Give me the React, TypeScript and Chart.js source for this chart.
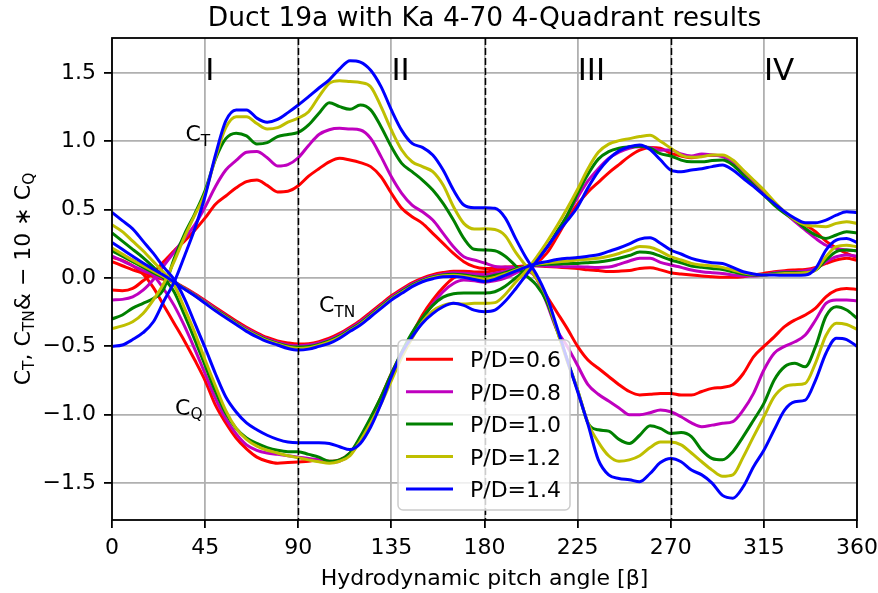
import React, { useEffect, useRef } from "react";
import { Chart, registerables } from "chart.js";

Chart.register(...registerables);

const BETA = [0, 5, 10, 15, 20, 25, 30, 35, 40, 45, 50, 55, 60, 65, 70, 75, 80, 85, 90, 95, 100, 105, 110, 115, 120, 125, 130, 135, 140, 145, 150, 155, 160, 165, 170, 175, 180, 185, 190, 195, 200, 205, 210, 215, 220, 225, 230, 235, 240, 245, 250, 255, 260, 265, 270, 275, 280, 285, 290, 295, 300, 305, 310, 315, 320, 325, 330, 335, 340, 345, 350, 355, 360];
const X_TICKS = [0, 45, 90, 135, 180, 225, 270, 315, 360];
const Y_TICKS = [-1.5, -1, -0.5, 0, 0.5, 1, 1.5];
const QUADRANT_LINES = [90, 180, 270];
const QUADRANT_LABELS = ["I", "II", "III", "IV"];
const QUADRANT_LABEL_X = [45, 135, 225, 315];
const PD_LABELS = ["P/D=0.6", "P/D=0.8", "P/D=1.0", "P/D=1.2", "P/D=1.4"];
const COLORS = ["#ff0000", "#bf00bf", "#008000", "#bfbf00", "#0000ff"];

// C_T
const CT_06 = [-0.088, -0.093, -0.076, -0.02, 0.04, 0.12, 0.2, 0.27, 0.35, 0.44, 0.54, 0.6, 0.66, 0.705, 0.717, 0.678, 0.63, 0.635, 0.675, 0.745, 0.8, 0.85, 0.876, 0.863, 0.844, 0.815, 0.741, 0.62, 0.51, 0.449, 0.4, 0.327, 0.254, 0.18, 0.12, 0.083, 0.07, 0.072, 0.08, 0.085, 0.085, 0.0, -0.13, -0.25, -0.37, -0.5, -0.6, -0.66, -0.72, -0.78, -0.83, -0.855, -0.85, -0.845, -0.844, -0.856, -0.856, -0.83, -0.807, -0.8, -0.78, -0.7, -0.576, -0.5, -0.43, -0.356, -0.307, -0.27, -0.22, -0.137, -0.088, -0.076, -0.083];
const CT_08 = [-0.16, -0.156, -0.137, -0.088, -0.01, 0.09, 0.19, 0.29, 0.39, 0.52, 0.67, 0.79, 0.86, 0.92, 0.925, 0.88, 0.82, 0.83, 0.88, 0.97, 1.05, 1.085, 1.095, 1.09, 1.083, 1.022, 0.888, 0.741, 0.62, 0.534, 0.485, 0.424, 0.327, 0.229, 0.156, 0.132, 0.11, 0.085, 0.08, 0.075, 0.06, 0.0, -0.18, -0.38, -0.5, -0.64, -0.78, -0.85, -0.9, -0.95, -1.0, -1.0, -0.985, -0.965, -0.978, -1.015, -1.06, -1.088, -1.076, -1.063, -1.05, -0.966, -0.844, -0.673, -0.55, -0.5, -0.466, -0.417, -0.307, -0.185, -0.16, -0.16, -0.166];
const CT_10 = [-0.3, -0.27, -0.22, -0.185, -0.15, -0.08, 0.14, 0.32, 0.47, 0.64, 0.87, 1.02, 1.06, 1.04, 0.98, 0.99, 1.035, 1.05, 1.065, 1.12, 1.205, 1.283, 1.254, 1.234, 1.266, 1.23, 1.107, 0.96, 0.839, 0.778, 0.717, 0.644, 0.546, 0.424, 0.29, 0.21, 0.205, 0.2, 0.16, 0.09, 0.02, -0.05, -0.17, -0.38, -0.6, -0.82, -1.06, -1.11, -1.12, -1.18, -1.21, -1.15, -1.08, -1.1, -1.137, -1.13, -1.16, -1.259, -1.32, -1.33, -1.27, -1.16, -1.04, -0.917, -0.746, -0.649, -0.624, -0.649, -0.5, -0.28, -0.21, -0.234, -0.295];
const CT_12 = [-0.37, -0.35, -0.32, -0.26, -0.16, -0.04, 0.12, 0.3, 0.46, 0.62, 0.88, 1.1, 1.18, 1.18, 1.13, 1.09, 1.1, 1.14, 1.17, 1.217, 1.327, 1.424, 1.444, 1.437, 1.43, 1.4, 1.254, 1.083, 0.937, 0.851, 0.815, 0.778, 0.68, 0.522, 0.4, 0.359, 0.36, 0.355, 0.31, 0.19, 0.09, 0.0, -0.14, -0.38, -0.61, -0.82, -1.06, -1.2, -1.3, -1.34, -1.33, -1.3, -1.24, -1.2, -1.2, -1.22, -1.28, -1.344, -1.405, -1.45, -1.44, -1.31, -1.16, -1.015, -0.868, -0.795, -0.78, -0.77, -0.62, -0.42, -0.33, -0.34, -0.375];
const CT_14 = [-0.5, -0.49, -0.45, -0.4, -0.32, -0.17, -0.03, 0.16, 0.36, 0.6, 0.9, 1.15, 1.23, 1.23, 1.17, 1.14, 1.16, 1.21, 1.266, 1.327, 1.39, 1.45, 1.53, 1.59, 1.58, 1.52, 1.4, 1.23, 1.08, 0.985, 0.956, 0.9, 0.79, 0.644, 0.534, 0.515, 0.515, 0.51, 0.44, 0.29, 0.15, 0.03, -0.13, -0.36, -0.6, -0.83, -1.07, -1.33, -1.44, -1.466, -1.475, -1.49, -1.43, -1.35, -1.32, -1.344, -1.405, -1.44, -1.5, -1.59, -1.61, -1.527, -1.38, -1.26, -1.11, -0.966, -0.905, -0.893, -0.746, -0.55, -0.44, -0.45, -0.5];

// C_TN
const CTN_06 = [0.12, 0.09, 0.06, 0.035, 0.01, -0.01, -0.03, -0.07, -0.115, -0.165, -0.215, -0.265, -0.315, -0.36, -0.4, -0.435, -0.46, -0.475, -0.483, -0.48, -0.465, -0.44, -0.405, -0.36, -0.31, -0.25, -0.19, -0.13, -0.08, -0.035, 0.0, 0.025, 0.04, 0.05, 0.05, 0.045, 0.045, 0.055, 0.07, 0.08, 0.09, 0.09, 0.085, 0.08, 0.075, 0.07, 0.06, 0.055, 0.048, 0.05, 0.055, 0.07, 0.075, 0.06, 0.039, 0.03, 0.022, 0.015, 0.01, 0.005, 0.005, 0.01, 0.022, 0.034, 0.046, 0.054, 0.059, 0.063, 0.078, 0.107, 0.132, 0.144, 0.13];
const CTN_08 = [0.16, 0.125, 0.09, 0.055, 0.025, -0.005, -0.03, -0.075, -0.12, -0.172, -0.225, -0.275, -0.325, -0.37, -0.41, -0.445, -0.47, -0.49, -0.495, -0.49, -0.475, -0.45, -0.415, -0.37, -0.32, -0.26, -0.2, -0.14, -0.09, -0.045, -0.01, 0.015, 0.03, 0.038, 0.035, 0.03, 0.025, 0.035, 0.05, 0.07, 0.085, 0.09, 0.088, 0.085, 0.083, 0.083, 0.08, 0.078, 0.08, 0.1, 0.125, 0.145, 0.145, 0.115, 0.095, 0.078, 0.059, 0.046, 0.039, 0.034, 0.022, 0.015, 0.015, 0.022, 0.039, 0.046, 0.046, 0.054, 0.07, 0.12, 0.156, 0.168, 0.16];
const CTN_10 = [0.2, 0.16, 0.12, 0.08, 0.04, 0.005, -0.03, -0.077, -0.125, -0.178, -0.23, -0.28, -0.33, -0.378, -0.418, -0.453, -0.478, -0.498, -0.505, -0.5, -0.485, -0.46, -0.425, -0.378, -0.33, -0.27, -0.208, -0.148, -0.098, -0.052, -0.017, 0.008, 0.022, 0.028, 0.022, 0.012, 0.005, 0.02, 0.04, 0.065, 0.085, 0.095, 0.1, 0.103, 0.105, 0.107, 0.112, 0.118, 0.128, 0.145, 0.165, 0.19, 0.185, 0.16, 0.132, 0.112, 0.088, 0.078, 0.07, 0.063, 0.046, 0.029, 0.022, 0.022, 0.034, 0.039, 0.039, 0.041, 0.059, 0.132, 0.193, 0.205, 0.2];
const CTN_12 = [0.22, 0.175, 0.13, 0.09, 0.05, 0.01, -0.03, -0.078, -0.127, -0.18, -0.235, -0.285, -0.335, -0.383, -0.423, -0.458, -0.483, -0.505, -0.515, -0.51, -0.492, -0.468, -0.432, -0.385, -0.337, -0.277, -0.215, -0.154, -0.105, -0.058, -0.022, 0.002, 0.016, 0.02, 0.014, 0.002, -0.008, 0.005, 0.03, 0.058, 0.083, 0.1, 0.11, 0.118, 0.125, 0.132, 0.138, 0.145, 0.16, 0.18, 0.205, 0.23, 0.225, 0.195, 0.156, 0.132, 0.107, 0.095, 0.088, 0.078, 0.059, 0.039, 0.027, 0.022, 0.027, 0.034, 0.034, 0.039, 0.059, 0.156, 0.229, 0.24, 0.229];
const CTN_14 = [0.26, 0.21, 0.16, 0.11, 0.065, 0.02, -0.03, -0.08, -0.13, -0.185, -0.24, -0.29, -0.34, -0.39, -0.43, -0.465, -0.49, -0.515, -0.527, -0.52, -0.5, -0.478, -0.44, -0.39, -0.344, -0.283, -0.222, -0.16, -0.112, -0.063, -0.027, -0.005, 0.01, 0.012, 0.005, -0.01, -0.025, -0.01, 0.02, 0.05, 0.08, 0.105, 0.12, 0.135, 0.145, 0.15, 0.16, 0.17, 0.195, 0.22, 0.25, 0.285, 0.295, 0.255, 0.205, 0.176, 0.144, 0.124, 0.112, 0.107, 0.078, 0.046, 0.03, 0.022, 0.022, 0.02, 0.02, 0.022, 0.07, 0.205, 0.278, 0.29, 0.26];

// -10*C_Q
const CQ_06 = [0.15, 0.13, 0.09, 0.03, -0.07, -0.2, -0.33, -0.46, -0.6, -0.75, -0.93, -1.06, -1.17, -1.25, -1.31, -1.34, -1.355, -1.35, -1.345, -1.34, -1.33, -1.34, -1.33, -1.28, -1.17, -1.03, -0.87, -0.7, -0.55, -0.41, -0.27, -0.16, -0.07, 0.0, 0.03, 0.035, 0.02, 0.025, 0.04, 0.06, 0.08, 0.11, 0.18, 0.3, 0.43, 0.54, 0.63, 0.7, 0.77, 0.83, 0.89, 0.935, 0.955, 0.95, 0.912, 0.893, 0.88, 0.893, 0.898, 0.893, 0.85, 0.778, 0.705, 0.62, 0.546, 0.478, 0.424, 0.388, 0.339, 0.27, 0.22, 0.18, 0.15];
const CQ_08 = [0.2, 0.17, 0.13, 0.08, 0.02, -0.08, -0.2, -0.35, -0.52, -0.7, -0.88, -1.03, -1.14, -1.22, -1.26, -1.28, -1.29, -1.3, -1.31, -1.32, -1.33, -1.35, -1.34, -1.29, -1.19, -1.05, -0.88, -0.72, -0.55, -0.41, -0.3, -0.19, -0.1, -0.04, -0.015, -0.02, -0.03, -0.02, 0.0, 0.035, 0.07, 0.12, 0.22, 0.33, 0.46, 0.59, 0.71, 0.8, 0.875, 0.92, 0.95, 0.96, 0.955, 0.935, 0.937, 0.907, 0.893, 0.907, 0.9, 0.888, 0.85, 0.766, 0.693, 0.62, 0.546, 0.478, 0.412, 0.351, 0.29, 0.24, 0.217, 0.205, 0.2];
const CQ_10 = [0.33, 0.27, 0.21, 0.15, 0.08, 0.0, -0.1, -0.27, -0.45, -0.64, -0.83, -0.99, -1.1, -1.17, -1.21, -1.24, -1.26, -1.27, -1.27, -1.29, -1.31, -1.34, -1.33, -1.28, -1.16, -1.02, -0.87, -0.7, -0.54, -0.4, -0.29, -0.2, -0.14, -0.115, -0.11, -0.11, -0.11, -0.1, -0.06, 0.0, 0.06, 0.13, 0.22, 0.34, 0.46, 0.62, 0.76, 0.87, 0.925, 0.95, 0.96, 0.965, 0.95, 0.91, 0.893, 0.863, 0.85, 0.85, 0.859, 0.863, 0.827, 0.754, 0.68, 0.607, 0.534, 0.473, 0.424, 0.363, 0.315, 0.29, 0.315, 0.339, 0.33];
const CQ_12 = [0.39, 0.34, 0.27, 0.2, 0.12, 0.04, -0.05, -0.22, -0.4, -0.6, -0.79, -0.97, -1.1, -1.18, -1.23, -1.26, -1.28, -1.3, -1.315, -1.33, -1.344, -1.355, -1.34, -1.3, -1.19, -1.06, -0.92, -0.75, -0.58, -0.44, -0.32, -0.24, -0.2, -0.185, -0.19, -0.185, -0.185, -0.18, -0.12, -0.03, 0.05, 0.15, 0.26, 0.38, 0.51, 0.65, 0.8, 0.92, 0.98, 1.005, 1.02, 1.035, 1.045, 1.0, 0.95, 0.9, 0.883, 0.888, 0.9, 0.9, 0.863, 0.79, 0.717, 0.644, 0.56, 0.485, 0.424, 0.388, 0.38, 0.376, 0.4, 0.412, 0.4];
const CQ_14 = [0.48, 0.42, 0.36, 0.27, 0.18, 0.08, -0.01, -0.15, -0.33, -0.51, -0.7, -0.87, -0.98, -1.06, -1.11, -1.15, -1.18, -1.2, -1.205, -1.205, -1.205, -1.21, -1.234, -1.255, -1.21, -1.09, -0.92, -0.72, -0.55, -0.43, -0.33, -0.26, -0.21, -0.185, -0.2, -0.235, -0.246, -0.235, -0.17, -0.08, 0.02, 0.12, 0.22, 0.327, 0.42, 0.52, 0.66, 0.78, 0.87, 0.93, 0.96, 0.973, 0.94, 0.865, 0.79, 0.778, 0.79, 0.8, 0.815, 0.827, 0.79, 0.73, 0.67, 0.607, 0.546, 0.485, 0.437, 0.405, 0.405, 0.424, 0.46, 0.485, 0.478];

const CT_SERIES = [CT_06, CT_08, CT_10, CT_12, CT_14];
const CTN_SERIES = [CTN_06, CTN_08, CTN_10, CTN_12, CTN_14];
const CQ_SERIES = [CQ_06, CQ_08, CQ_10, CQ_12, CQ_14];

const FONT = '"DejaVu Sans", sans-serif';

type Part = { t: string; sub?: boolean };

function partsWidth(ctx: CanvasRenderingContext2D, parts: Part[], size: number) {
  let w = 0;
  for (const p of parts) {
    ctx.font = `${p.sub ? size * 0.7 : size}px ${FONT}`;
    w += ctx.measureText(p.t).width;
  }
  return w;
}

function drawParts(ctx: CanvasRenderingContext2D, x: number, y: number, parts: Part[], size: number) {
  let cx = x;
  for (const p of parts) {
    ctx.font = `${p.sub ? size * 0.7 : size}px ${FONT}`;
    ctx.fillText(p.t, cx, p.sub ? y + size * 0.2 : y);
    cx += ctx.measureText(p.t).width;
  }
}

const decorPlugin = {
  id: "decor",
  afterDatasetsDraw(chart: any) {
    const ctx: CanvasRenderingContext2D = chart.ctx;
    const xs = chart.scales.x;
    const ys = chart.scales.y;
    const area = chart.chartArea;
    ctx.save();

    // dashed quadrant lines
    ctx.strokeStyle = "#000";
    ctx.lineWidth = 1.5;
    ctx.setLineDash([7, 3]);
    for (const q of QUADRANT_LINES) {
      const px = Math.round(xs.getPixelForValue(q)) + 0.5;
      ctx.beginPath();
      ctx.moveTo(px, area.top);
      ctx.lineTo(px, area.bottom);
      ctx.stroke();
    }
    ctx.setLineDash([]);

    // spines
    ctx.lineWidth = 1.8;
    ctx.strokeRect(area.left, area.top, area.right - area.left, area.bottom - area.top);

    // quadrant labels
    ctx.fillStyle = "#000";
    ctx.textAlign = "left";
    ctx.textBaseline = "alphabetic";
    ctx.font = `31px ${FONT}`;
    QUADRANT_LABELS.forEach((lab, i) => {
      ctx.fillText(lab, xs.getPixelForValue(QUADRANT_LABEL_X[i]), ys.getPixelForValue(1.45));
    });

    // curve family labels
    drawParts(ctx, xs.getPixelForValue(35.5), ys.getPixelForValue(1.0), [{ t: "C" }, { t: "T", sub: true }], 22);
    drawParts(ctx, xs.getPixelForValue(100), ys.getPixelForValue(-0.25), [{ t: "C" }, { t: "TN", sub: true }], 22);
    drawParts(ctx, xs.getPixelForValue(30.5), ys.getPixelForValue(-1.0), [{ t: "C" }, { t: "Q", sub: true }], 22);

    // legend
    const lx = 398, ly = 340, lw = 172, lh = 170;
    ctx.beginPath();
    (ctx as any).roundRect(lx, ly, lw, lh, 5);
    ctx.fillStyle = "rgba(255,255,255,0.8)";
    ctx.fill();
    ctx.strokeStyle = "#cccccc";
    ctx.lineWidth = 1.5;
    ctx.stroke();
    ctx.font = `22px ${FONT}`;
    PD_LABELS.forEach((lab, i) => {
      const yy = 359.3 + i * 32.4;
      ctx.strokeStyle = COLORS[i];
      ctx.lineWidth = 3;
      ctx.beginPath();
      ctx.moveTo(406, yy);
      ctx.lineTo(453, yy);
      ctx.stroke();
      ctx.fillStyle = "#000";
      ctx.fillText(lab, 470, yy + 8);
    });

    // title
    ctx.textAlign = "center";
    ctx.font = `26.5px ${FONT}`;
    ctx.fillText("Duct 19a with Ka 4-70 4-Quadrant results", (area.left + area.right) / 2, 26);

    // x label
    ctx.font = `22px ${FONT}`;
    ctx.fillText("Hydrodynamic pitch angle [\u03b2]", (area.left + area.right) / 2, 585);

    // y label
    ctx.textAlign = "left";
    const yParts: Part[] = [
      { t: "C" }, { t: "T", sub: true }, { t: ", C" }, { t: "TN", sub: true },
      { t: "& \u2212 10 \u2217 C" }, { t: "Q", sub: true },
    ];
    const w = partsWidth(ctx, yParts, 22);
    ctx.translate(30, (area.top + area.bottom) / 2);
    ctx.rotate(-Math.PI / 2);
    drawParts(ctx, -w / 2, 0, yParts, 22);

    ctx.restore();
  },
};

export default function App() {
  const ref = useRef<HTMLCanvasElement>(null);
  useEffect(() => {
    document.body.style.margin = "0";
    const datasets: any[] = [];
    for (let i = 0; i < 5; i++) {
      const fams = [CT_SERIES[i], CTN_SERIES[i], CQ_SERIES[i]];
      fams.forEach((arr, k) => {
        datasets.push({
          label: k === 0 ? PD_LABELS[i] : `${PD_LABELS[i]}-${k}`,
          data: BETA.map((b, j) => ({ x: b, y: arr[j] })),
          borderColor: COLORS[i],
          backgroundColor: COLORS[i],
          borderWidth: 3,
          pointRadius: 0,
          fill: false,
          cubicInterpolationMode: "monotone",
          order: 10 - i,
        });
      });
    }
    const chart = new Chart(ref.current!, {
      type: "line",
      data: { datasets },
      options: {
        animation: false,
        responsive: false,
        maintainAspectRatio: false,
        layout: { padding: { top: 38, right: 21, left: 0, bottom: 0 } },
        plugins: { legend: { display: false }, tooltip: { enabled: false }, title: { display: false } },
        scales: {
          x: {
            type: "linear",
            min: 0,
            max: 360,
            afterBuildTicks: (s: any) => { s.ticks = X_TICKS.map((v) => ({ value: v })); },
            afterFit: (s: any) => { s.height = 73; s.paddingLeft = 0; s.paddingRight = 0; },
            ticks: { color: "#000", font: { family: "DejaVu Sans", size: 22 }, padding: 7, maxRotation: 0, autoSkip: false },
            grid: { color: "#b0b0b0", lineWidth: 1.8, tickColor: "#000", tickLength: 8, tickWidth: 1.8 },
            border: { display: false },
          },
          y: {
            type: "linear",
            min: -1.77,
            max: 1.756,
            afterBuildTicks: (s: any) => { s.ticks = Y_TICKS.map((v) => ({ value: v })); },
            afterFit: (s: any) => { s.width = 112; s.paddingTop = 0; s.paddingBottom = 0; },
            ticks: {
              color: "#000",
              font: { family: "DejaVu Sans", size: 22 },
              padding: 8,
              autoSkip: false,
              callback: (v: any) => {
                const n = Number(v);
                const s = n.toFixed(1);
                return n < 0 ? "\u2212" + s.slice(1) : s;
              },
            },
            grid: { color: "#b0b0b0", lineWidth: 1.8, tickColor: "#000", tickLength: 8, tickWidth: 1.8 },
            border: { display: false },
          },
        },
      },
      plugins: [decorPlugin],
    });
    return () => chart.destroy();
  }, []);
  return <canvas ref={ref} width={878} height={593} style={{ display: "block" }} />;
}
